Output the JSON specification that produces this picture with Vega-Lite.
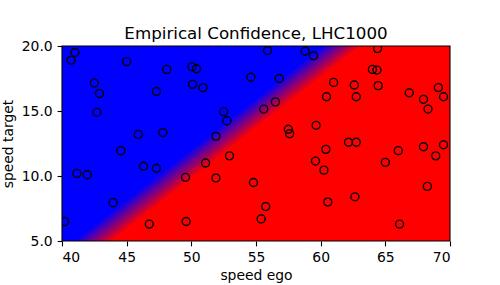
{
  "$schema": "https://vega.github.io/schema/vega-lite/v6.json",
  "width": 388,
  "height": 195,
  "autosize": {"type": "none"},
  "padding": {"left": 62, "top": 46, "right": 50, "bottom": 44},
  "background": "white",
  "title": {"text": "Empirical Confidence, LHC1000", "font": "DejaVu Sans", "fontSize": 16.7, "fontWeight": "normal", "color": "black", "baseline": "alphabetic", "offset": 8, "anchor": "middle", "dy": 25},
  "config": {
    "view": {"stroke": null},
    "axis": {"labelFont": "DejaVu Sans", "labelFontSize": 13.9, "labelColor": "black", "titleFont": "DejaVu Sans", "titleFontSize": 13.9, "titleFontWeight": "normal", "titleColor": "black", "domain": false, "grid": false, "tickColor": "black", "tickSize": 4.9, "tickWidth": 1.1, "labelPadding": 4.9}
  },
  "layer": [
    {
      "data": {"values": [{}]},
      "mark": {"type": "rect", "fill": "#0000ff"},
      "encoding": {
        "x": {"datum": 40, "type": "quantitative", "scale": {"domain": [40, 70], "nice": false, "zero": false}, "axis": {"values": [40, 45, 50, 55, 60, 65, 70], "title": "speed ego", "titlePadding": 4}},
        "x2": {"datum": 70},
        "y": {"datum": 5, "type": "quantitative", "scale": {"domain": [5, 20], "nice": false, "zero": false}, "axis": {"values": [5, 7.5, 10, 12.5, 15, 17.5, 20], "format": ".1f", "title": "speed target", "titlePadding": 6}},
        "y2": {"datum": 20}
      }
    },
    {
      "data": {"values": [
        {"band": 0, "speed_target": 5, "boundary": 41.10},
        {"band": 0, "speed_target": 20, "boundary": 60.36},
        {"band": 1, "speed_target": 5, "boundary": 41.47},
        {"band": 1, "speed_target": 20, "boundary": 60.73},
        {"band": 2, "speed_target": 5, "boundary": 41.84},
        {"band": 2, "speed_target": 20, "boundary": 61.10},
        {"band": 3, "speed_target": 5, "boundary": 42.21},
        {"band": 3, "speed_target": 20, "boundary": 61.47},
        {"band": 4, "speed_target": 5, "boundary": 42.59},
        {"band": 4, "speed_target": 20, "boundary": 61.85},
        {"band": 5, "speed_target": 5, "boundary": 42.96},
        {"band": 5, "speed_target": 20, "boundary": 62.22},
        {"band": 6, "speed_target": 5, "boundary": 43.33},
        {"band": 6, "speed_target": 20, "boundary": 62.59},
        {"band": 7, "speed_target": 5, "boundary": 43.70},
        {"band": 7, "speed_target": 20, "boundary": 62.96}
      ]},
      "mark": {"type": "area", "orient": "horizontal", "clip": true},
      "encoding": {
        "y": {"field": "speed_target", "type": "quantitative"},
        "x": {"field": "boundary", "type": "quantitative", "stack": null},
        "x2": {"datum": 70},
        "color": {"field": "band", "type": "ordinal", "scale": {"domain": [0, 1, 2, 3, 4, 5, 6, 7], "range": ["#2000df", "#4000bf", "#60009f", "#800080", "#9f0060", "#bf0040", "#df0020", "#ff0000"]}, "legend": null}
      }
    },
    {
      "data": {"values": [
        {"speed_ego": 41.0, "speed_target": 19.5},
        {"speed_ego": 40.7, "speed_target": 18.9},
        {"speed_ego": 45.0, "speed_target": 18.8},
        {"speed_ego": 48.1, "speed_target": 18.2},
        {"speed_ego": 50.05, "speed_target": 18.4},
        {"speed_ego": 50.4, "speed_target": 18.25},
        {"speed_ego": 42.5, "speed_target": 17.15},
        {"speed_ego": 42.9, "speed_target": 16.35},
        {"speed_ego": 47.3, "speed_target": 16.5},
        {"speed_ego": 50.1, "speed_target": 17.05},
        {"speed_ego": 50.9, "speed_target": 16.8},
        {"speed_ego": 42.7, "speed_target": 14.9},
        {"speed_ego": 45.9, "speed_target": 13.2},
        {"speed_ego": 47.8, "speed_target": 13.35},
        {"speed_ego": 55.9, "speed_target": 19.65},
        {"speed_ego": 58.8, "speed_target": 19.6},
        {"speed_ego": 59.45, "speed_target": 19.25},
        {"speed_ego": 54.6, "speed_target": 17.6},
        {"speed_ego": 56.8, "speed_target": 17.5},
        {"speed_ego": 52.5, "speed_target": 14.95},
        {"speed_ego": 52.75, "speed_target": 14.25},
        {"speed_ego": 55.6, "speed_target": 15.15},
        {"speed_ego": 56.5, "speed_target": 15.7},
        {"speed_ego": 51.9, "speed_target": 13.05},
        {"speed_ego": 57.5, "speed_target": 13.6},
        {"speed_ego": 57.6, "speed_target": 13.25},
        {"speed_ego": 59.65, "speed_target": 13.9},
        {"speed_ego": 64.4, "speed_target": 19.8},
        {"speed_ego": 64.0, "speed_target": 18.2},
        {"speed_ego": 64.35, "speed_target": 18.15},
        {"speed_ego": 61.0, "speed_target": 17.2},
        {"speed_ego": 62.6, "speed_target": 17.0},
        {"speed_ego": 64.45, "speed_target": 16.95},
        {"speed_ego": 60.45, "speed_target": 16.1},
        {"speed_ego": 62.75, "speed_target": 16.1},
        {"speed_ego": 66.85, "speed_target": 16.4},
        {"speed_ego": 67.95, "speed_target": 15.9},
        {"speed_ego": 69.1, "speed_target": 16.8},
        {"speed_ego": 69.5, "speed_target": 16.1},
        {"speed_ego": 68.3, "speed_target": 15.15},
        {"speed_ego": 62.15, "speed_target": 12.6},
        {"speed_ego": 62.75, "speed_target": 12.6},
        {"speed_ego": 67.95, "speed_target": 12.25},
        {"speed_ego": 69.5, "speed_target": 12.4},
        {"speed_ego": 44.55, "speed_target": 11.95},
        {"speed_ego": 41.15, "speed_target": 10.2},
        {"speed_ego": 41.95, "speed_target": 10.1},
        {"speed_ego": 46.3, "speed_target": 10.75},
        {"speed_ego": 47.3, "speed_target": 10.6},
        {"speed_ego": 49.55, "speed_target": 9.9},
        {"speed_ego": 43.95, "speed_target": 7.95},
        {"speed_ego": 40.2, "speed_target": 6.5},
        {"speed_ego": 46.75, "speed_target": 6.3},
        {"speed_ego": 49.6, "speed_target": 6.5},
        {"speed_ego": 52.95, "speed_target": 11.55},
        {"speed_ego": 51.1, "speed_target": 11.0},
        {"speed_ego": 51.9, "speed_target": 9.85},
        {"speed_ego": 54.8, "speed_target": 9.5},
        {"speed_ego": 59.6, "speed_target": 11.15},
        {"speed_ego": 60.25, "speed_target": 10.45},
        {"speed_ego": 55.75, "speed_target": 7.65},
        {"speed_ego": 55.4, "speed_target": 6.7},
        {"speed_ego": 60.4, "speed_target": 12.05},
        {"speed_ego": 65.0, "speed_target": 11.05},
        {"speed_ego": 66.0, "speed_target": 11.95},
        {"speed_ego": 68.25, "speed_target": 9.2},
        {"speed_ego": 68.9, "speed_target": 11.55},
        {"speed_ego": 60.55, "speed_target": 8.0},
        {"speed_ego": 62.65, "speed_target": 8.4},
        {"speed_ego": 66.1, "speed_target": 6.3}
      ]},
      "mark": {"type": "point", "shape": "circle", "filled": false, "stroke": "black", "strokeWidth": 1.35, "size": 64, "opacity": 1, "clip": true},
      "encoding": {
        "x": {"field": "speed_ego", "type": "quantitative"},
        "y": {"field": "speed_target", "type": "quantitative"}
      }
    },
    {
      "data": {"values": [{}]},
      "mark": {"type": "rect", "fill": null, "stroke": "black", "strokeWidth": 1.1},
      "encoding": {
        "x": {"datum": 40, "type": "quantitative"},
        "x2": {"datum": 70},
        "y": {"datum": 5, "type": "quantitative"},
        "y2": {"datum": 20}
      }
    }
  ]
}
